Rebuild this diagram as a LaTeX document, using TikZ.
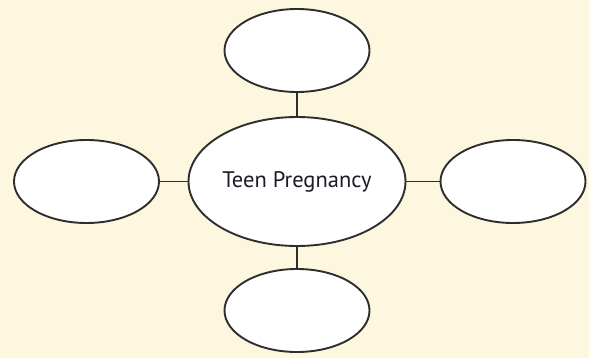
\documentclass[tikz,border=0pt]{standalone}
\usepackage{fontspec}
\newfontfamily\bubblefont{PT Sans}
\definecolor{bgcream}{HTML}{FEF7DF}
\definecolor{rimgray}{HTML}{2E2E2E}
\definecolor{inkblue}{HTML}{1E1B26}
\tikzset{
  bubble/.style={ellipse,draw=rimgray,line width=1.9pt,fill=white,inner sep=0pt,
    minimum width=145pt,minimum height=83pt},
  link/.style={draw=rimgray,line width=1.4pt}
}
\usetikzlibrary{shapes.geometric}
\begin{document}
\begin{tikzpicture}[x=1pt,y=-1pt]
        % Background
        \fill[bgcream] (0,0) rectangle (589,358);

        % Centre topic
        \node[bubble,minimum width=217pt,minimum height=129pt,text=inkblue,
          font=\bubblefont\fontsize{22.5}{26}\selectfont] (topic) at (297,181.5) {Teen Pregnancy};

        % Outer bubbles
        \node[bubble] (up) at (297,50.5) {};
        \node[bubble] (down) at (297,310.5) {};
        \node[bubble] (west) at (86.5,181.5) {};
        \node[bubble] (east) at (513,181.5) {};

        % Connectors
        \draw[link] (up) -- (topic);
        \draw[link] (down) -- (topic);
        \draw[link] (west) -- (topic);
        \draw[link] (east) -- (topic);
    \end{tikzpicture}
\end{document}
